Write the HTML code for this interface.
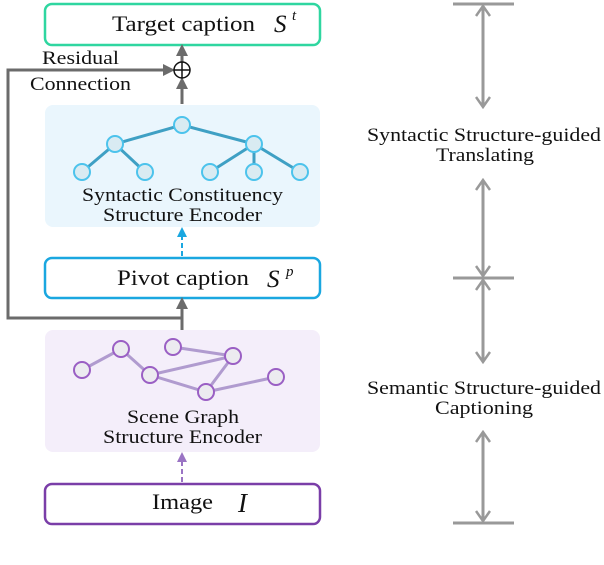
<!DOCTYPE html>
<html><head><style>body{margin:0;background:#fff}</style></head><body>
<svg width="604" height="560" xmlns="http://www.w3.org/2000/svg" font-family="Liberation Serif, serif" fill="none">
<defs>
<marker id="ag" markerWidth="12" markerHeight="12" refX="9" refY="6" orient="auto" markerUnits="userSpaceOnUse"><path d="M0,0 L12,6 L0,12 z" fill="#6b6b6b"/></marker>
<marker id="ab" markerWidth="10" markerHeight="10" refX="8" refY="5" orient="auto" markerUnits="userSpaceOnUse"><path d="M0,0 L10,5 L0,10 z" fill="#1aa7e0"/></marker>
<marker id="ap" markerWidth="10" markerHeight="10" refX="8" refY="5" orient="auto" markerUnits="userSpaceOnUse"><path d="M0,0 L10,5 L0,10 z" fill="#9a74c4"/></marker>
<marker id="ar" markerWidth="14" markerHeight="16" refX="12" refY="8" orient="auto" markerUnits="userSpaceOnUse"><path d="M2,1 L12,8 L2,15" stroke="#999" stroke-width="2.5" fill="none"/></marker>
</defs>
<rect x="45" y="105" width="275" height="122" rx="8" fill="#eaf6fd"/>
<rect x="45" y="330" width="275" height="122" rx="8" fill="#f4eefa"/>
<rect x="45" y="4" width="275" height="41" rx="7" stroke="#2fd6a0" stroke-width="2.5" fill="#fff"/>
<rect x="45" y="258" width="275" height="40" rx="7" stroke="#1aa7e0" stroke-width="2.5" fill="#fff"/>
<rect x="45" y="484" width="275" height="40" rx="7" stroke="#7a3ea8" stroke-width="2.5" fill="#fff"/>
<g fill="#111" font-size="22">
<text x="112" y="31" textLength="143" lengthAdjust="spacingAndGlyphs">Target caption</text><text x="274" y="32" font-style="italic" font-size="25">S</text><text x="292" y="20" font-style="italic" font-size="15">t</text>
<text x="117" y="285" textLength="132" lengthAdjust="spacingAndGlyphs">Pivot caption</text><text x="267" y="287" font-style="italic" font-size="25">S</text><text x="286" y="276" font-style="italic" font-size="15">p</text>
<text x="152" y="509" textLength="61" lengthAdjust="spacingAndGlyphs">Image</text><text x="238" y="512" font-style="italic" font-size="27">I</text>
</g>
<g fill="#111" font-size="19">
<text x="42" y="64" textLength="77" lengthAdjust="spacingAndGlyphs">Residual</text><text x="30" y="90" textLength="101" lengthAdjust="spacingAndGlyphs">Connection</text>
<text x="82" y="201" textLength="201" lengthAdjust="spacingAndGlyphs">Syntactic Constituency</text><text x="103" y="221" textLength="159" lengthAdjust="spacingAndGlyphs">Structure Encoder</text>
<text x="127" y="423" textLength="112" lengthAdjust="spacingAndGlyphs">Scene Graph</text><text x="103" y="443" textLength="159" lengthAdjust="spacingAndGlyphs">Structure Encoder</text>
<text x="367" y="141" textLength="234" lengthAdjust="spacingAndGlyphs">Syntactic Structure-guided</text><text x="436" y="161" textLength="98" lengthAdjust="spacingAndGlyphs">Translating</text>
<text x="367" y="394" textLength="234" lengthAdjust="spacingAndGlyphs">Semantic Structure-guided</text><text x="435" y="414" textLength="98" lengthAdjust="spacingAndGlyphs">Captioning</text>
</g>
<g stroke="#6b6b6b" stroke-width="3">
<path d="M182,330 V300" marker-end="url(#ag)"/>
<path d="M182,318 H8 V70 H172" marker-end="url(#ag)"/>
<path d="M182,104 V80" marker-end="url(#ag)"/>
<path d="M182,62 V47" marker-end="url(#ag)"/>
</g>
<circle cx="182" cy="70" r="8" stroke="#111" stroke-width="1.5" fill="#fff"/>
<path d="M174,70 H190 M182,62 V78" stroke="#111" stroke-width="1.5"/>
<path d="M182,256 V229" stroke="#1aa7e0" stroke-width="2" stroke-dasharray="5,3" marker-end="url(#ab)"/>
<path d="M182,482 V454" stroke="#9a74c4" stroke-width="2" stroke-dasharray="5,3" marker-end="url(#ap)"/>
<g stroke="#3fa0c4" stroke-width="3">
<path d="M182,125 L115,144 M182,125 L254,144 M115,144 L82,172 M115,144 L145,172 M254,144 L210,172 M254,144 L254,172 M254,144 L300,172"/>
</g>
<g stroke="#4cc3ec" stroke-width="2" fill="#d9ebf2">
<circle cx="182" cy="125" r="8"/><circle cx="115" cy="144" r="8"/><circle cx="254" cy="144" r="8"/>
<circle cx="82" cy="172" r="8"/><circle cx="145" cy="172" r="8"/><circle cx="210" cy="172" r="8"/><circle cx="254" cy="172" r="8"/><circle cx="300" cy="172" r="8"/>
</g>
<g stroke="#b09bcf" stroke-width="3">
<path d="M82,370 L121,349 L150,375 L233,356 L206,392 L150,375 M173,347 L233,356 M206,392 L276,377"/>
</g>
<g stroke="#9a5fc4" stroke-width="2" fill="#ecebf0">
<circle cx="82" cy="370" r="8"/><circle cx="121" cy="349" r="8"/><circle cx="173" cy="347" r="8"/><circle cx="233" cy="356" r="8"/>
<circle cx="150" cy="375" r="8"/><circle cx="206" cy="392" r="8"/><circle cx="276" cy="377" r="8"/>
</g>
<g stroke="#999" stroke-width="3">
<path d="M453,4 H514 M453,278 H514 M453,523 H514"/>
<path d="M483,107 V6" marker-end="url(#ar)"/><path d="M483,6 V107" marker-end="url(#ar)"/>
<path d="M483,276 V180" marker-end="url(#ar)"/><path d="M483,180 V276" marker-end="url(#ar)"/>
<path d="M483,362 V280" marker-end="url(#ar)"/><path d="M483,280 V362" marker-end="url(#ar)"/>
<path d="M483,521 V432" marker-end="url(#ar)"/><path d="M483,432 V521" marker-end="url(#ar)"/>
</g>
</svg>
</body></html>
